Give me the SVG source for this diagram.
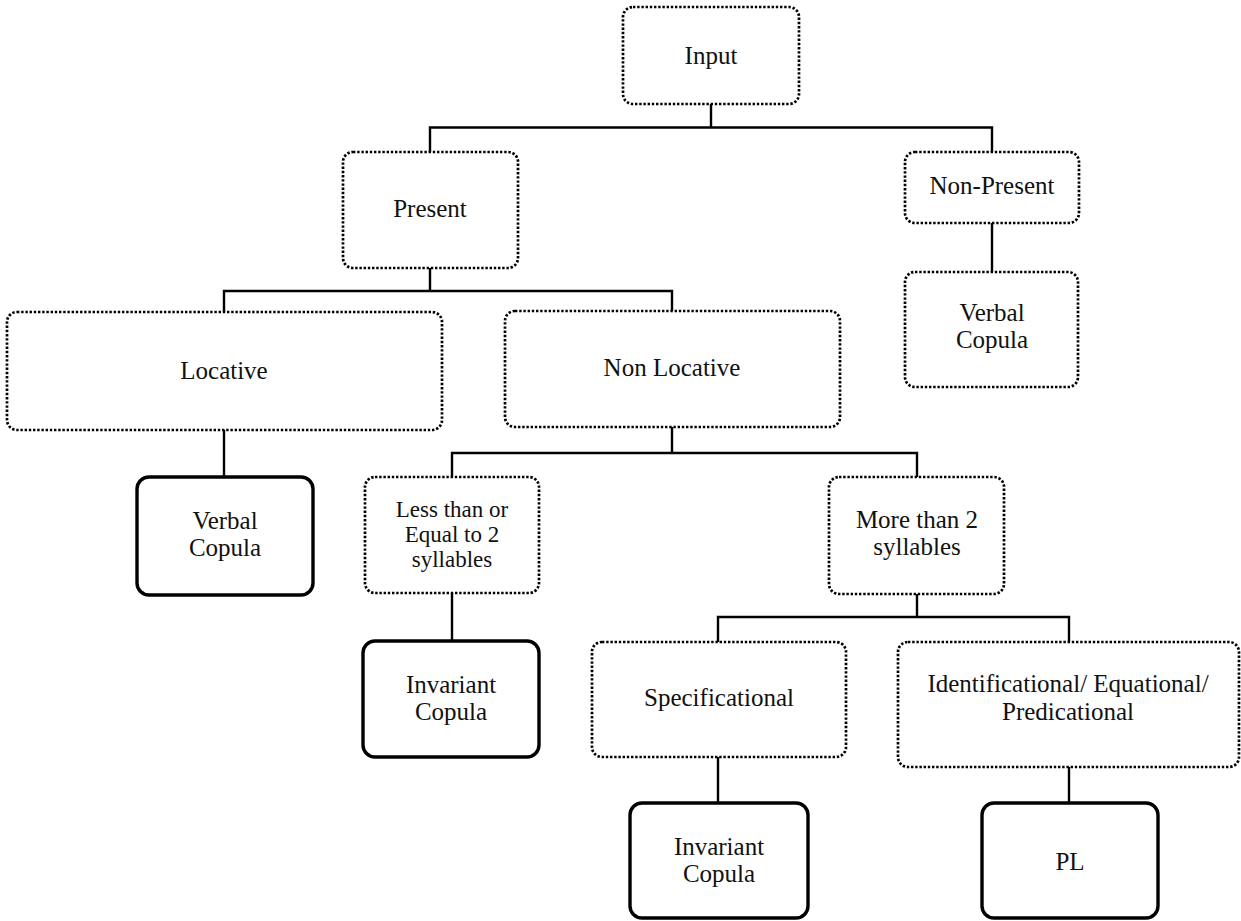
<svg xmlns="http://www.w3.org/2000/svg" width="1241" height="921" viewBox="0 0 1241 921">
<style>
.dot{fill:#fff;stroke:#000;stroke-width:2.7;stroke-dasharray:2.4 1.8}
.sol{fill:#fff;stroke:#000;stroke-width:3.4}
.lbl{font-family:"Liberation Serif","Times New Roman",serif;font-size:25px;fill:#111;text-anchor:middle}
.sm{font-size:23px}
.edge{fill:none;stroke:#000;stroke-width:2.4}
</style>
<rect width="1241" height="921" fill="#fff"/>
<g id="connectors">
<path class="edge" d="M711 104V127.5M430 152V127.5H992V152"/>
<path class="edge" d="M430 268V291M224 312V291H672V311"/>
<path class="edge" d="M992 223V272"/>
<path class="edge" d="M224 430V477"/>
<path class="edge" d="M672 427V453M452 477V453H917V477"/>
<path class="edge" d="M452 593V641"/>
<path class="edge" d="M917 594V617M718 642V617H1069V642"/>
<path class="edge" d="M718 757V803"/>
<path class="edge" d="M1069 767V803"/>
</g>
<g id="input"><rect class="dot" x="623" y="7" width="176" height="97" rx="10"/><text class="lbl" x="711" y="64">Input</text></g>
<g id="present"><rect class="dot" x="343" y="152" width="175" height="116" rx="10"/><text class="lbl" x="430" y="217">Present</text></g>
<g id="nonpresent"><rect class="dot" x="905" y="152" width="174" height="71" rx="10"/><text class="lbl" x="992" y="194">Non-Present</text></g>
<g id="verbal-right"><rect class="dot" x="905" y="272" width="173" height="115" rx="10"/><text class="lbl" x="992" y="321">Verbal</text><text class="lbl" x="992" y="348">Copula</text></g>
<g id="locative"><rect class="dot" x="7" y="312" width="435" height="118" rx="10"/><text class="lbl" x="224" y="379">Locative</text></g>
<g id="nonlocative"><rect class="dot" x="505" y="311" width="335" height="116" rx="10"/><text class="lbl" x="672" y="376">Non Locative</text></g>
<g id="verbal-left"><rect class="sol" x="137" y="477" width="176" height="118" rx="12"/><text class="lbl" x="225" y="529">Verbal</text><text class="lbl" x="225" y="556">Copula</text></g>
<g id="lessthan"><rect class="dot" x="365" y="477" width="174" height="116" rx="10"/><text class="lbl sm" x="452" y="517">Less than or</text><text class="lbl sm" x="452" y="542">Equal to 2</text><text class="lbl sm" x="452" y="567">syllables</text></g>
<g id="morethan"><rect class="dot" x="829" y="477" width="175" height="117" rx="10"/><text class="lbl" x="917" y="528">More than 2</text><text class="lbl" x="917" y="555">syllables</text></g>
<g id="invariant-mid"><rect class="sol" x="363" y="641" width="176" height="116" rx="12"/><text class="lbl" x="451" y="693">Invariant</text><text class="lbl" x="451" y="720">Copula</text></g>
<g id="specificational"><rect class="dot" x="592" y="642" width="254" height="115" rx="10"/><text class="lbl" x="719" y="706">Specificational</text></g>
<g id="identificational"><rect class="dot" x="898" y="642" width="341" height="125" rx="10"/><text class="lbl" x="1068" y="692">Identificational/ Equational/</text><text class="lbl" x="1068" y="720">Predicational</text></g>
<g id="invariant-bottom"><rect class="sol" x="630" y="803" width="178" height="115" rx="12"/><text class="lbl" x="719" y="855">Invariant</text><text class="lbl" x="719" y="882">Copula</text></g>
<g id="pl"><rect class="sol" x="982" y="803" width="176" height="115" rx="12"/><text class="lbl" x="1070" y="870">PL</text></g>
</svg>
